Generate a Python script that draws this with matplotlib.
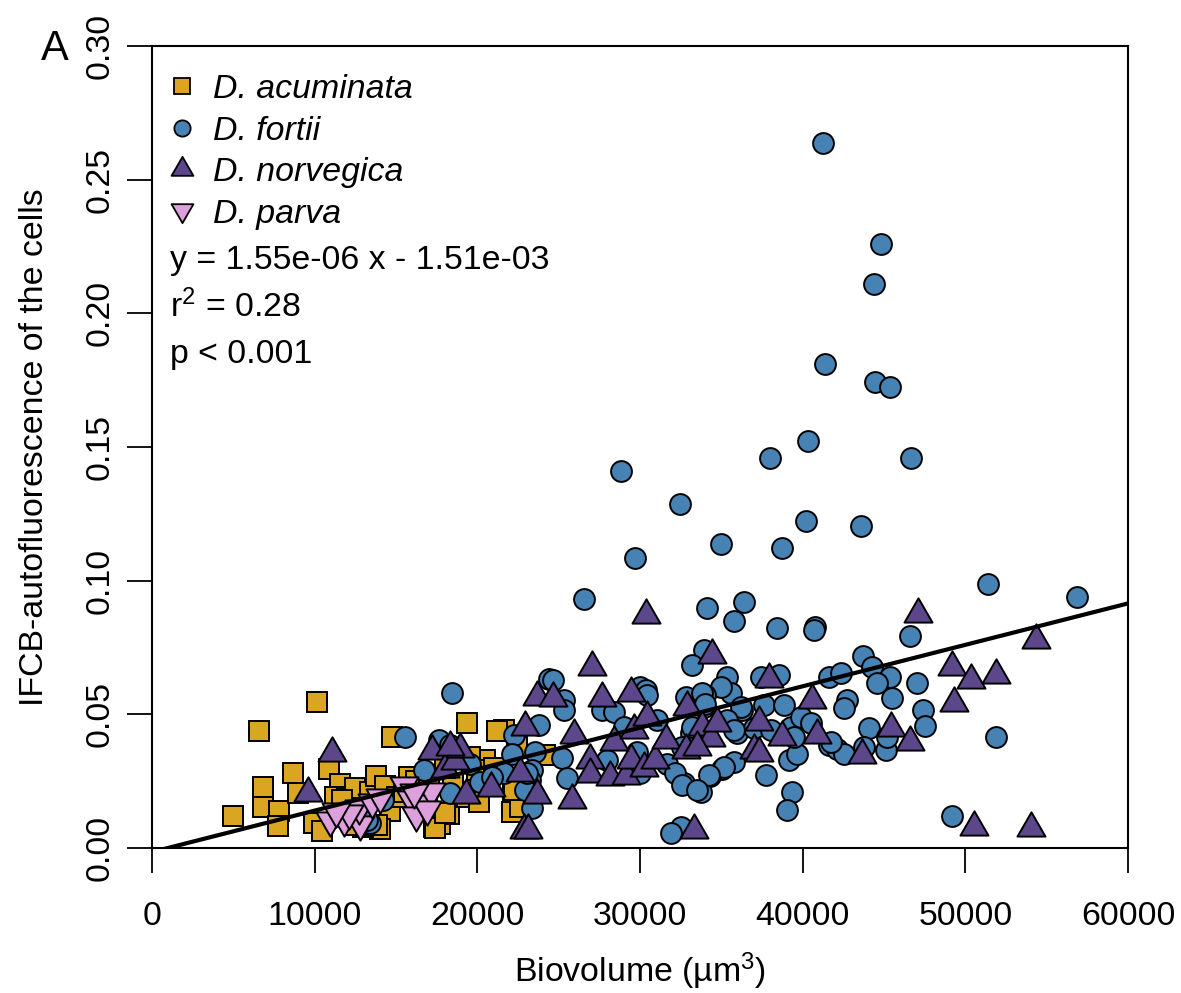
import numpy as np
import matplotlib
matplotlib.use("Agg")
import matplotlib.pyplot as plt
from matplotlib.path import Path

plt.rcParams['font.family'] = ['Liberation Sans', 'DejaVu Sans']
plt.rcParams['mathtext.fontset'] = 'custom'
plt.rcParams['mathtext.rm'] = 'Liberation Sans'
plt.rcParams['mathtext.it'] = 'Liberation Sans:italic'

# ---------------- data ----------------
species = ["D. acuminata", "D. fortii", "D. norvegica", "D. parva"]
colors = ["#DAA520", "#4682B4", "#5D478B", "#DDA0DD"]

acum_x = [4990, 6600, 6810, 6810, 7830, 7770, 8660, 9000, 10140, 9970, 10440, 10910,
          11530, 11260, 11980, 12490, 13420, 13790, 14340, 14750, 15770, 14650, 14030,
          13000, 12490, 11670, 15060, 16680, 16900, 17310, 17720, 18230, 19370, 20490,
          19980, 19370, 20080, 21620, 22200, 22130, 22440, 24190, 22650, 19570, 17420,
          18030, 13830, 16200, 17000, 18500, 15500, 12000, 21000, 18000, 22240, 21210]
acum_y = [0.0120, 0.0437, 0.0227, 0.0152, 0.0140, 0.0082, 0.0282, 0.0205, 0.0548, 0.0095,
          0.0062, 0.0294, 0.0240, 0.0190, 0.0185, 0.0224, 0.0210, 0.0268, 0.0232, 0.0416,
          0.0267, 0.0138, 0.0070, 0.0080, 0.0085, 0.0180, 0.0190, 0.0229, 0.0180, 0.0080,
          0.0088, 0.0129, 0.0466, 0.0329, 0.0292, 0.0192, 0.0173, 0.0441, 0.0214, 0.0136,
          0.0379, 0.0348, 0.0154, 0.0340, 0.0073, 0.0131, 0.0086, 0.0250, 0.0270, 0.0240,
          0.0210, 0.0120, 0.0300, 0.0300, 0.0217, 0.0436]

fort_x = [41280, 44800, 44380, 41360, 44470, 45340, 40320, 38010, 46630, 28860, 32460,
          40210, 43610, 34990, 38750, 29690, 26540, 51410, 56840, 34130, 36390, 35780,
          38400, 40740, 40700, 46610, 43730, 44290, 45370, 44600, 47010, 45510, 47420,
          47510, 51880, 49210, 41620, 42340, 42750, 42550, 44080, 43770, 45110, 45210,
          41620, 42130, 42550, 39160, 39670, 37720, 39360, 39010, 35780, 35060, 34300,
          33720, 35370, 35570, 34960, 37420, 38540, 37620, 38850, 33990, 33930, 35470,
          35980, 36290, 37000, 38030, 39260, 39880, 40490, 39460, 41720, 33930, 33210,
          32800, 33830, 34000, 36190, 35370, 33110, 32600, 35780, 35160, 34240, 32700,
          32490, 24390, 24680, 25310, 25310, 30030, 30340, 30440, 27680, 28390, 23770,
          22240, 22130, 23570, 25210, 25520, 23370, 23260, 22950, 23370, 21620, 27970,
          29010, 29830, 30030, 31060, 31670, 32180, 32600, 33520, 33210, 31880, 15570,
          18440, 17620, 18340, 16700, 19570, 20180, 18340, 23050, 14230, 13420, 20900,
          13210]
fort_y = [0.2638, 0.2258, 0.2108, 0.1809, 0.1744, 0.1723, 0.1522, 0.1457, 0.1457, 0.1410,
          0.1285, 0.1223, 0.1204, 0.1136, 0.1123, 0.1086, 0.0933, 0.0987, 0.0940, 0.0896,
          0.0921, 0.0849, 0.0822, 0.0828, 0.0815, 0.0793, 0.0718, 0.0678, 0.0640, 0.0616,
          0.0616, 0.0560, 0.0516, 0.0456, 0.0414, 0.0120, 0.0640, 0.0653, 0.0554, 0.0522,
          0.0448, 0.0379, 0.0367, 0.0416, 0.0385, 0.0372, 0.0353, 0.0329, 0.0353, 0.0273,
          0.0210, 0.0142, 0.0322, 0.0297, 0.0269, 0.0210, 0.0640, 0.0578, 0.0603, 0.0640,
          0.0647, 0.0535, 0.0535, 0.0572, 0.0528, 0.0472, 0.0429, 0.0516, 0.0448, 0.0441,
          0.0454, 0.0491, 0.0466, 0.0416, 0.0398, 0.0740, 0.0684, 0.0566, 0.0578, 0.0540,
          0.0528, 0.0479, 0.0429, 0.0379, 0.0441, 0.0304, 0.0273, 0.0242, 0.0080, 0.0634,
          0.0628, 0.0554, 0.0516, 0.0603, 0.0591, 0.0572, 0.0516, 0.0509, 0.0460, 0.0423,
          0.0353, 0.0360, 0.0335, 0.0260, 0.0292, 0.0254, 0.0217, 0.0148, 0.0279, 0.0329,
          0.0454, 0.0360, 0.0279, 0.0479, 0.0316, 0.0279, 0.0236, 0.0217, 0.0454, 0.0055,
          0.0416, 0.0581, 0.0404, 0.0385, 0.0292, 0.0316, 0.0248, 0.0204, 0.0279, 0.0180,
          0.0093, 0.0267, 0.0105]

norv_x = [9620, 11060, 17210, 18030, 18650, 18950, 18340, 19300, 20850, 22650, 22950,
          23670, 22850, 23100, 23670, 24680, 25830, 25930, 27060, 27680, 29420, 30340,
          26950, 26900, 28180, 29110, 29420, 28390, 29620, 30440, 30240, 30950, 31570,
          32800, 32900, 33830, 34340, 33520, 34750, 34440, 33310, 37930, 37310, 37000,
          37300, 38750, 40590, 40900, 43670, 45420, 46610, 47060, 49210, 49320, 50340,
          51880, 54340, 50550, 54030]
norv_y = [0.0204, 0.0355, 0.0363, 0.0297, 0.0325, 0.0370, 0.0379, 0.0198, 0.0225, 0.0281,
          0.0454, 0.0198, 0.0067, 0.0067, 0.0566, 0.0560, 0.0180, 0.0423, 0.0678, 0.0560,
          0.0578, 0.0871, 0.0329, 0.0275, 0.0267, 0.0270, 0.0329, 0.0398, 0.0441, 0.0491,
          0.0300, 0.0329, 0.0404, 0.0367, 0.0528, 0.0454, 0.0410, 0.0379, 0.0466, 0.0722,
          0.0067, 0.0634, 0.0472, 0.0367, 0.0355, 0.0416, 0.0554, 0.0423, 0.0348, 0.0448,
          0.0398, 0.0877, 0.0678, 0.0541, 0.0628, 0.0647, 0.0778, 0.0080, 0.0073]

parv_x = [10950, 11800, 12800, 12700, 12100, 13500, 15500, 15900, 16200, 16700, 17150,
          16900, 14000, 11300, 16100]
parv_y = [0.0105, 0.0105, 0.0088, 0.0150, 0.0130, 0.0172, 0.0236, 0.0185, 0.0125, 0.0170,
          0.0212, 0.0145, 0.0190, 0.0140, 0.0210]

slope = 1.55e-06
intercept = -1.51e-03

x_ticks = [0, 10000, 20000, 30000, 40000, 50000, 60000]
y_ticks = [0.00, 0.05, 0.10, 0.15, 0.20, 0.25, 0.30]

# ---------------- markers (R pch 21-25 geometry) ----------------
s32 = np.sqrt(3) / 2
codes = [Path.MOVETO, Path.LINETO, Path.LINETO, Path.CLOSEPOLY]
tri_up = Path([(0, 1), (s32, -0.5), (-s32, -0.5), (0, 1)], codes)
tri_dn = Path([(0, -1), (s32, 0.5), (-s32, 0.5), (0, -1)], codes)

D = 15.0  # circle diameter in points
markers = ['s', 'o', tri_up, tri_dn]
msizes = [0.95 * D, D, 1.555 * D, 1.555 * D]

fig = plt.figure(figsize=(11.81, 9.93), dpi=100)
ax = fig.add_axes([152 / 1181, 145 / 993, 976 / 1181, 802 / 993])

xs = [acum_x, fort_x, norv_x, parv_x]
ys = [acum_y, fort_y, norv_y, parv_y]
for x, y, m, ms, c in zip(xs, ys, markers, msizes, colors):
    ax.plot(x, y, linestyle='none', marker=m, markersize=ms, markerfacecolor=c,
            markeredgecolor='black', markeredgewidth=1.4, zorder=3)

lx = np.array([0, 60000])
ax.plot(lx, slope * lx + intercept, color='black', lw=3.0, zorder=4,
        solid_capstyle='butt')

ax.set_xlim(0, 60000)
ax.set_ylim(0, 0.30)
ax.set_xticks(x_ticks)
ax.set_xticklabels([str(v) for v in x_ticks])
ax.set_yticks(y_ticks)
ax.set_yticklabels([f"{v:.2f}" for v in y_ticks])
fs = 24.4
ax.tick_params(axis='both', direction='out', length=18, width=1.3, labelsize=fs)
ax.tick_params(axis='x', pad=20)
ax.tick_params(axis='y', pad=8)
for lab in ax.get_yticklabels():
    lab.set_rotation(90)
    lab.set_verticalalignment('center')
    lab.set_horizontalalignment('right')
for sp in ax.spines.values():
    sp.set_linewidth(1.5)

# legend (R style, no box)
def ax_frac_x(px):
    return (px - 152) / 976

def ax_frac_y(py):
    return (848 - py) / 802

rows = [86, 127.5, 169, 210]
text_rows = [90, 131.5, 173, 214]
for name, m, ms, c, ry, ty in zip(species, markers, msizes, colors, rows, text_rows):
    ax.plot([ax_frac_x(182)], [ax_frac_y(ry)], transform=ax.transAxes, linestyle='none',
            marker=m, markersize=ms * 0.78, markerfacecolor=c, markeredgecolor='black',
            markeredgewidth=1.3, clip_on=False, zorder=5)
    ax.text(ax_frac_x(213), ax_frac_y(ty), name, transform=ax.transAxes, fontsize=fs,
            style='italic', ha='left', va='center', zorder=5)

stats = ["y = 1.55e-06 x - 1.51e-03", "r$^2$ = 0.28", "p < 0.001"]
for s, ry in zip(stats, [260, 307, 354]):
    ax.text(ax_frac_x(170), ax_frac_y(ry), s, transform=ax.transAxes, fontsize=fs,
            ha='left', va='center', zorder=5)

fig.text(55 / 1181, 1 - 49 / 993, "A", fontsize=30, ha='center', va='center')
fig.text(35 / 1181, 1 - 447 / 993, "IFCB-autofluorescence of the cells", fontsize=fs,
         rotation=90, ha='center', va='center')
fig.text(640 / 1181, 1 - 971 / 993, "Biovolume (µm$^3$)", fontsize=fs,
         ha='center', va='center')

fig.savefig("out.png", dpi=100)
